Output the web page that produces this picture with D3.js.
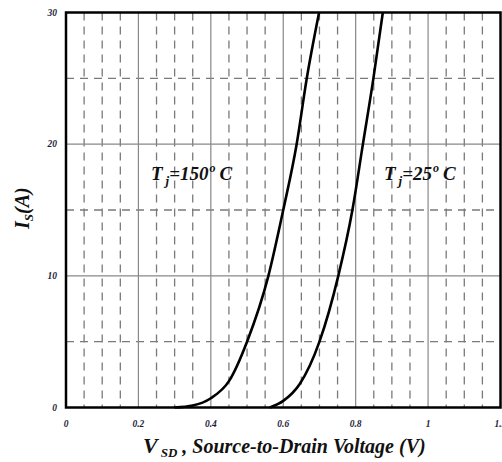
<!DOCTYPE html>
<html>
<head>
<meta charset="utf-8">
<script src="https://d3js.org/d3.v7.min.js"></script>
<style>
  body { margin: 0; background: #fff; }
  text { font-family: "Liberation Serif", "Times New Roman", serif; font-weight: bold; font-style: italic; }
</style>
</head>
<body>
<script>
// data
const xTicks = [0, 0.2, 0.4, 0.6, 0.8, 1, 1.2];
const xTickLabels = ["0", "0.2", "0.4", "0.6", "0.8", "1", "1.2"];
const xMinor = [0.05, 0.1, 0.15, 0.25, 0.3, 0.35, 0.45, 0.5, 0.55, 0.65, 0.7, 0.75, 0.85, 0.9, 0.95, 1.05, 1.1, 1.15];
const yTicks = [0, 10, 20, 30];
const yMinor = [5, 15, 25];

// Tj = 150 C
const vHot = [0.30, 0.35, 0.40, 0.45, 0.50, 0.559, 0.600, 0.637, 0.665, 0.699];
const iHot = [0, 0.15, 0.7, 2.0, 5.0, 10, 15, 20, 25, 30];
// Tj = 25 C
const vCold = [0.563, 0.60, 0.646, 0.70, 0.752, 0.791, 0.82, 0.849, 0.875];
const iCold = [0, 0.5, 1.8, 5, 10, 15, 20, 25, 30];

const width = 502, height = 462;
const plotL = 66, plotR = 500.5, plotT = 12.5, plotB = 407.5;

let x = d3.scaleLinear().domain([0, 1.2]).range([plotL, plotR]);
let y = d3.scaleLinear().domain([0, 30]).range([plotB, plotT]);

let svg = d3.select("body")
    .append("svg")
    .attr("width", width)
    .attr("height", height);

// minor grid (dashed)
svg.append("g")
    .selectAll("line")
    .data(xMinor)
    .join("line")
    .attr("x1", d => x(d)).attr("x2", d => x(d))
    .attr("y1", plotT).attr("y2", plotB)
    .attr("stroke", "#7a7a7a")
    .attr("stroke-width", 1.3)
    .attr("stroke-dasharray", "8,6");

svg.append("g")
    .selectAll("line")
    .data(yMinor)
    .join("line")
    .attr("x1", plotL).attr("x2", plotR)
    .attr("y1", d => y(d)).attr("y2", d => y(d))
    .attr("stroke", "#7a7a7a")
    .attr("stroke-width", 1.3)
    .attr("stroke-dasharray", "8,6");

// major grid (solid)
svg.append("g")
    .selectAll("line")
    .data(xTicks.slice(1, -1))
    .join("line")
    .attr("x1", d => x(d)).attr("x2", d => x(d))
    .attr("y1", plotT).attr("y2", plotB)
    .attr("stroke", "#888")
    .attr("stroke-width", 1.2);

svg.append("g")
    .selectAll("line")
    .data(yTicks.slice(1, -1))
    .join("line")
    .attr("x1", plotL).attr("x2", plotR)
    .attr("y1", d => y(d)).attr("y2", d => y(d))
    .attr("stroke", "#888")
    .attr("stroke-width", 1.2);

// frame
svg.append("rect")
    .attr("x", plotL).attr("y", plotT)
    .attr("width", plotR - plotL).attr("height", plotB - plotT)
    .attr("fill", "none")
    .attr("stroke", "#000")
    .attr("stroke-width", 2.5);

// tick labels (the last one runs off the right edge, as in the original)
svg.append("g")
    .selectAll("text")
    .data(xTicks)
    .join("text")
    .attr("x", d => x(d))
    .attr("y", 427)
    .attr("text-anchor", "middle")
    .attr("font-size", 9.5)
    .attr("fill", "#1c1c38")
    .text((d, i) => xTickLabels[i]);

svg.append("g")
    .selectAll("text")
    .data(yTicks)
    .join("text")
    .attr("x", 57)
    .attr("y", d => y(d) + 3)
    .attr("text-anchor", "end")
    .attr("font-size", 9.5)
    .attr("fill", "#1c1c38")
    .text(d => d);

// curves
let line = d3.line()
    .x(d => x(d[0]))
    .y(d => y(d[1]))
    .curve(d3.curveMonotoneX);

svg.append("path")
    .datum(vHot.map((v, i) => [v, iHot[i]]))
    .attr("d", line)
    .attr("fill", "none")
    .attr("stroke", "#000")
    .attr("stroke-width", 2.6);

svg.append("path")
    .datum(vCold.map((v, i) => [v, iCold[i]]))
    .attr("d", line)
    .attr("fill", "none")
    .attr("stroke", "#000")
    .attr("stroke-width", 2.6);

// annotations
let label = (px, py, temp) => {
    let t = svg.append("text")
        .attr("x", px).attr("y", py)
        .attr("font-size", 19)
        .attr("fill", "#111");
    t.append("tspan").text("T");
    t.append("tspan").attr("font-size", 13).attr("dx", 3).attr("dy", 5).text("j");
    t.append("tspan").attr("dy", -5).text("=" + temp);
    t.append("tspan").attr("font-size", 12).attr("dx", 1).attr("dy", -8).text("o");
    t.append("tspan").attr("dx", 4).attr("dy", 8).text("C");
};
label(151, 180, "150");
label(384, 180, "25");

// axis titles
let xt = svg.append("text")
    .attr("x", 143).attr("y", 453)
    .attr("font-size", 20)
    .attr("fill", "#111");
xt.append("tspan").attr("font-size", 22).text("V");
xt.append("tspan").attr("font-size", 13).attr("dx", 3).attr("dy", 4).text("SD");
xt.append("tspan").attr("dy", -4).text(" , Source-to-Drain Voltage (V)");

let yt = svg.append("text")
    .attr("transform", "translate(29,229) rotate(-90)")
    .attr("font-size", 20)
    .attr("fill", "#111");
yt.append("tspan").text("I");
yt.append("tspan").attr("font-size", 13).attr("dy", 4).text("S");
yt.append("tspan").attr("dy", -4).text("(A)");
</script>
</body>
</html>
